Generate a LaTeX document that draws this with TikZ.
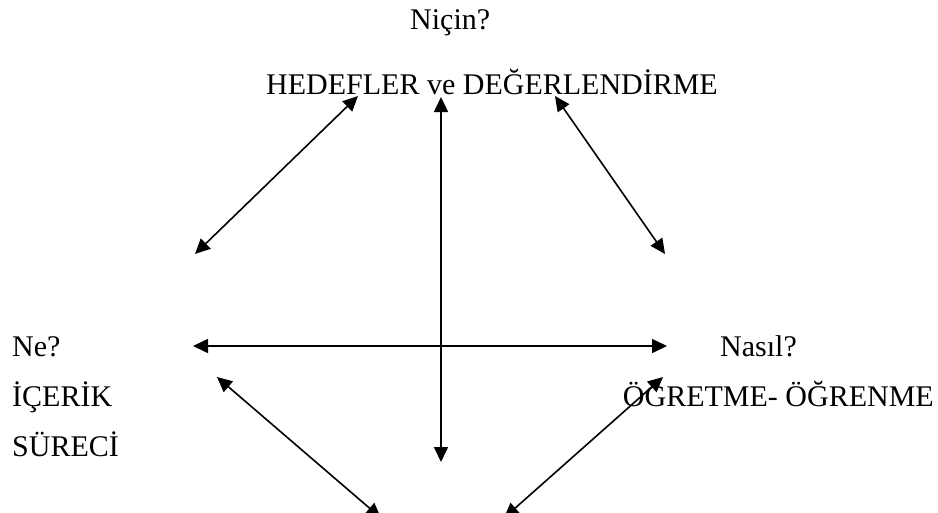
\documentclass[tikz,border=0pt]{standalone}
\usepackage{fontspec}
\setmainfont{Liberation Serif}
\usetikzlibrary{arrows.meta}
\begin{document}
\begin{tikzpicture}[x=1pt,y=-1pt,
  lbl/.style={inner sep=0pt,font=\fontsize{30}{35}\selectfont},
  dbl/.style={line width=1.6pt,{Triangle[length=15pt,width=14pt]}-{Triangle[length=15pt,width=14pt]}}]
\useasboundingbox[fill=white] (0,0) rectangle (938,512);
% texts
\node[lbl,anchor=base west] (nicin) at (410,29) {Niçin?};
\node[lbl,anchor=base west] (hedef) at (266,94) {HEDEFLER ve DEĞERLENDİRME};
\node[lbl,anchor=base west] (ne) at (12,356) {Ne?};
\node[lbl,anchor=base west] (icerik) at (12,406) {İÇERİK};
\node[lbl,anchor=base west] (sureci) at (12,456) {SÜRECİ};
\node[lbl,anchor=base west] (nasil) at (720,356) {Nasıl?};
\node[lbl,anchor=base east] (ogretme) at (934,406) {ÖĞRETME- ÖĞRENME};
% arrow ends
\coordinate (tlA) at (195,254);
\coordinate (tlB) at (358,96);
\coordinate (vA) at (441,97);
\coordinate (vB) at (441,462);
\coordinate (trA) at (555,96);
\coordinate (trB) at (665,254);
\coordinate (hA) at (193,346);
\coordinate (hB) at (667,346);
\coordinate (blA) at (217,377);
\coordinate (blB) at (381,518);
\coordinate (brA) at (663,377);
\coordinate (brB) at (504,518);
% connectors
\draw[dbl] (tlA) -- (tlB);
\draw[dbl] (vA) -- (vB);
\draw[dbl] (trA) -- (trB);
\draw[dbl] (hA) -- (hB);
\draw[dbl] (blA) -- (blB);
\draw[dbl] (brA) -- (brB);
\end{tikzpicture}
\end{document}
